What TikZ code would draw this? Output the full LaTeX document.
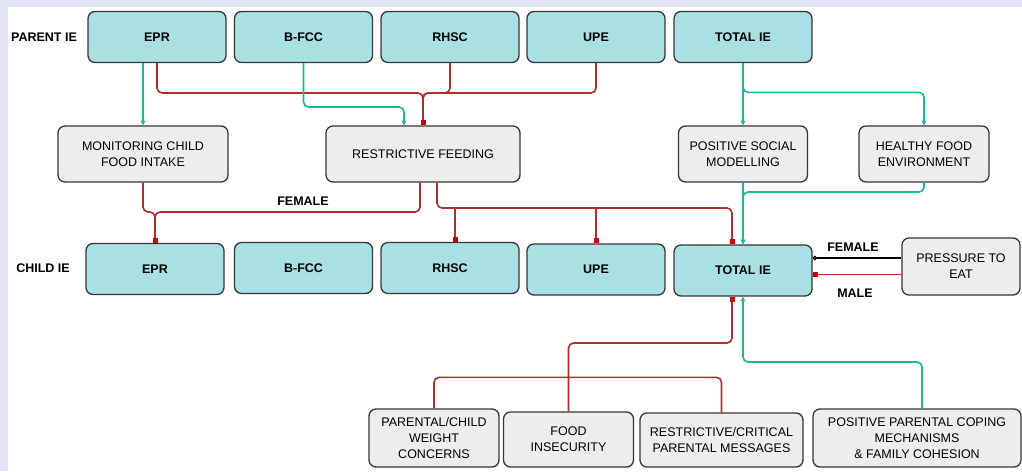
\documentclass[tikz,border=0pt]{standalone}
\usepackage{fontspec}
\setmainfont{Liberation Sans}
\usepackage{xcolor}
\usepackage{tikz}
\usetikzlibrary{arrows.meta, positioning, calc}
\definecolor{ieteal}{RGB}{168, 224, 228}
\definecolor{iegrey}{RGB}{237, 237, 237}
\definecolor{boxline}{RGB}{55, 55, 55}
\definecolor{pathgreen}{RGB}{26, 186, 142}
\definecolor{pathred}{RGB}{178, 45, 45}
\definecolor{markred}{RGB}{210, 0, 0}
\definecolor{framelav}{RGB}{226, 230, 244}

\tikzset{
  iebox/.style={draw=boxline, line width=1.3pt, fill=ieteal, rounded corners=7pt,
    minimum width=138pt, minimum height=51pt, font=\fontsize{12.5}{16}\selectfont\bfseries},
  medbox/.style={draw=boxline, line width=1.3pt, fill=iegrey, rounded corners=7pt,
    align=center, font=\fontsize{12.5}{16}\selectfont},
  rowlabel/.style={font=\fontsize{12.5}{16}\selectfont\bfseries},
  greenlink/.style={pathgreen, line width=1.6pt, rounded corners=5pt,
    -{Stealth[length=5pt,width=5pt]}},
  redlink/.style={pathred, line width=1.6pt, rounded corners=5pt,
    -{Square[length=5pt,width=5pt,color=markred]}}
}

\begin{document}
\begin{tikzpicture}[x=1pt, y=-1pt]

% frame
\useasboundingbox (0,0) rectangle (1022,471);
\fill[white] (0,0) rectangle (1022,471);
\fill[framelav] (0,0) rectangle (1022,7);
\fill[framelav] (0,0) rectangle (8,471);

% Parent IE row
\node[rowlabel] (plabel) at (44,37) {PARENT IE};
\node[iebox] (pEPR)  at (157,37)   {EPR};
\node[iebox] (pBFCC) at (303.5,37) {B-FCC};
\node[iebox] (pRHSC) at (450,37)   {RHSC};
\node[iebox] (pUPE)  at (596,37)   {UPE};
\node[iebox] (pTOT)  at (743,37)   {TOTAL IE};

% Feeding practices
\node[medbox, minimum width=170pt, minimum height=56pt] (mon) at (143,154)
    {MONITORING CHILD\\FOOD INTAKE};
\node[medbox, minimum width=194pt, minimum height=56pt] (rf) at (423,154)
    {RESTRICTIVE FEEDING};
\node[medbox, minimum width=129pt, minimum height=56pt] (psm) at (743,154)
    {POSITIVE SOCIAL\\MODELLING};
\node[medbox, minimum width=130pt, minimum height=56pt] (hfe) at (924,154)
    {HEALTHY FOOD\\ENVIRONMENT};

% Child IE row
\node[rowlabel] (clabel) at (43,268) {CHILD IE};
\node[iebox] (cEPR)  at (155,269)   {EPR};
\node[iebox] (cBFCC) at (303.5,268) {B-FCC};
\node[iebox] (cRHSC) at (450,268)   {RHSC};
\node[iebox] (cUPE)  at (596,269.5) {UPE};
\node[iebox] (cTOT)  at (743,270.5) {TOTAL IE};
\node[medbox, minimum width=118pt, minimum height=57pt] (pte) at (961,266.5)
    {PRESSURE TO\\EAT};

% Family factors
\node[medbox, minimum width=130pt, minimum height=58pt] (pcw) at (434,438)
    {PARENTAL/CHILD\\WEIGHT\\CONCERNS};
\node[medbox, minimum width=130pt, minimum height=55pt] (fi) at (568.5,439.5)
    {FOOD\\INSECURITY};
\node[medbox, minimum width=163pt, minimum height=54pt] (rcm) at (721.5,440)
    {RESTRICTIVE/CRITICAL\\PARENTAL MESSAGES};
\node[medbox, minimum width=208pt, minimum height=58pt] (ppc) at (917,438)
    {POSITIVE PARENTAL COPING\\MECHANISMS\\\& FAMILY COHESION};

% junctions
\coordinate (pj) at (423,93);
\coordinate (bj) at (404,107);
\coordinate (cj) at (155,212);
\coordinate (tj) at (732,208);
\coordinate (gj) at (743,192);
\coordinate (fj) at (732,343);
\coordinate (qj) at (743,362);

% Parent IE -> feeding practices
\draw[greenlink] (mon.north |- pEPR.south) -- (mon.north);
\draw[redlink] (pEPR.south) |- (pj) -- (rf.north);
\draw[redlink] (pRHSC.south) |- (pj) -- (rf.north);
\draw[redlink] (pUPE.south) |- (pj) -- (rf.north);
\draw[greenlink] (pBFCC.south) |- (bj) -- (bj |- rf.north);
\draw[greenlink] (pTOT.south) -- (psm.north);
\draw[greenlink] (pTOT.south) |- ($(hfe.north)+(0,-33)$) -- (hfe.north);

% feeding practices -> Child IE
\draw[redlink] (mon.south) |- (cj) -- (cEPR.north);
\draw[redlink] ([xshift=-3pt]rf.south) |- (cj) -- (cEPR.north);
\node[rowlabel] (fem1) at (303,201) {FEMALE};
\draw[redlink] ([xshift=14pt]rf.south) |- (tj) -- ([xshift=-11pt]cTOT.north);
\draw[redlink] ([xshift=5pt]cRHSC.north |- tj) -- ([xshift=5pt]cRHSC.north);
\draw[redlink] (cUPE.north |- tj) -- (cUPE.north);
\draw[greenlink] (psm.south) -- (cTOT.north);
\draw[greenlink] (hfe.south) |- (gj) -- (cTOT.north);

% Child total IE <-> pressure to eat
\draw[black, line width=1.3pt, {Circle[open,length=4.5pt,width=4.5pt]}-]
    ([yshift=12.5pt]cTOT.east) -- ([yshift=12.5pt]cTOT.east -| pte.west);
\draw[pathred, line width=1.6pt, {Square[length=5pt,width=5pt,color=markred]}-]
    ([yshift=-4pt]cTOT.east) -- ([yshift=-4pt]cTOT.east -| pte.west);
\node[rowlabel] (fem2) at (853,247) {FEMALE};
\node[rowlabel] (male) at (855,293) {MALE};

% family factors -> Child total IE
\draw[pathred, line width=1.6pt, rounded corners=5pt]
    (pcw.north) -- ++(0,-31) -| (rcm.north);
\draw[redlink] (fi.north) |- (fj) -- ([xshift=-11pt]cTOT.south);
\draw[greenlink] ([xshift=5pt]ppc.north) |- (qj) -- (cTOT.south);

\end{tikzpicture}
\end{document}
